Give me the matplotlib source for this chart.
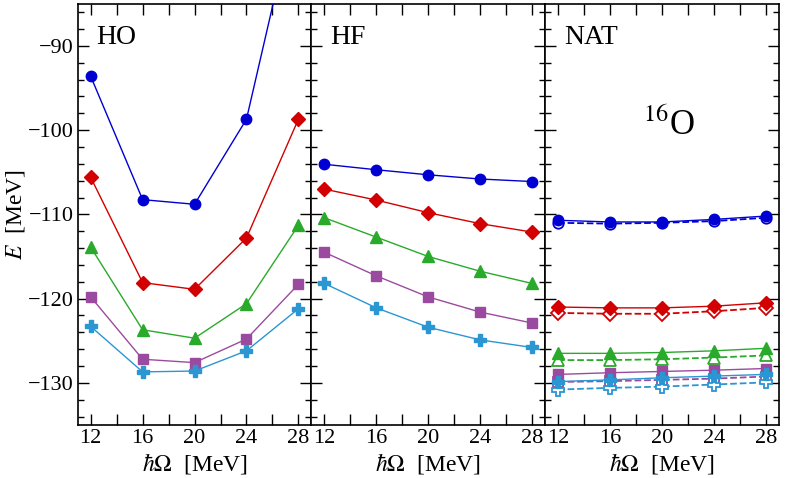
import matplotlib
matplotlib.use("Agg")
import matplotlib.pyplot as plt
from matplotlib.ticker import MultipleLocator

plt.rcParams["font.family"] = ["Liberation Serif", "DejaVu Serif"]
plt.rcParams["mathtext.fontset"] = "stix"

# hbar*Omega grid shared by all panels
hw = [12, 16, 20, 24, 28]

# HO basis
ho_blue = [-93.6, -108.25, -108.8, -98.7, -72.0]
ho_red = [-105.6, -118.1, -118.9, -112.8, -98.7]
ho_green = [-113.9, -123.7, -124.7, -120.6, -111.3]
ho_purple = [-119.8, -127.2, -127.6, -124.8, -118.3]
ho_cyan = [-123.3, -128.7, -128.6, -126.2, -121.2]

# HF basis
hf_blue = [-104.05, -104.7, -105.3, -105.8, -106.1]
hf_red = [-107.0, -108.3, -109.8, -111.1, -112.1]
hf_green = [-110.4, -112.7, -115.0, -116.75, -118.2]
hf_purple = [-114.5, -117.3, -119.8, -121.6, -122.9]
hf_cyan = [-118.2, -121.1, -123.4, -124.9, -125.8]

# NAT basis, solid (filled) and dashed (open)
nat_blue = [-110.7, -110.9, -110.9, -110.6, -110.2]
nat_red = [-121.0, -121.1, -121.1, -120.9, -120.5]
nat_green = [-126.5, -126.5, -126.4, -126.2, -125.9]
nat_purple = [-129.0, -128.8, -128.65, -128.5, -128.3]
nat_cyan = [-129.85, -129.65, -129.4, -129.2, -129.0]

nat2_blue = [-111.0, -111.1, -111.0, -110.8, -110.4]
nat2_red = [-121.7, -121.8, -121.8, -121.5, -121.1]
nat2_green = [-127.3, -127.3, -127.2, -127.0, -126.75]
nat2_purple = [-129.9, -129.8, -129.65, -129.5, -129.25]
nat2_cyan = [-130.8, -130.6, -130.45, -130.2, -129.95]

colors = ["#0000d2", "#d20000", "#2aaa2a", "#9b4b9f", "#2a96d2"]
markers = ["o", "D", "^", "s", "P"]
msizes = [7.5, 7, 9, 7, 9]

panels = [
    ("HO", [ho_blue, ho_red, ho_green, ho_purple, ho_cyan], None),
    ("HF", [hf_blue, hf_red, hf_green, hf_purple, hf_cyan], None),
    ("NAT", [nat_blue, nat_red, nat_green, nat_purple, nat_cyan],
     [nat2_blue, nat2_red, nat2_green, nat2_purple, nat2_cyan]),
]

fig, axes = plt.subplots(1, 3, figsize=(7.85, 4.78), dpi=100, sharey=True)
fig.subplots_adjust(left=0.099, right=0.992, top=0.992, bottom=0.111, wspace=0)

for ax, (name, solid, dashed) in zip(axes, panels):
    if dashed is not None:
        for ys, c, m, ms in zip(dashed, colors, markers, msizes):
            ax.plot(hw, ys, ls="--", lw=1.3, color=c, marker=m, ms=ms,
                    mfc="white", mec=c, mew=1.3, zorder=2)
    for ys, c, m, ms in zip(solid, colors, markers, msizes):
        ax.plot(hw, ys, ls="-", lw=1.0, color=c, marker=m, ms=ms,
                mec=c, zorder=3)
    ax.set_xlim(11, 29)
    ax.set_ylim(-135, -85)
    ax.set_xticks(hw)
    ax.xaxis.set_minor_locator(MultipleLocator(2))
    ax.yaxis.set_major_locator(MultipleLocator(10))
    ax.yaxis.set_minor_locator(MultipleLocator(2))
    ax.tick_params(which="both", direction="in", top=True, right=True,
                   labelsize=16, width=1.0)
    ax.tick_params(which="major", length=8, pad=3)
    ax.tick_params(axis="x", which="minor", length=8)
    ax.tick_params(axis="y", which="minor", length=4)
    for s in ax.spines.values():
        s.set_linewidth(1.2)
    ax.set_xlabel(r"$\hbar\Omega$  [MeV]", fontsize=17, labelpad=2)
    ax.text(0.08, 0.92, name, transform=ax.transAxes, fontsize=20,
            va="center", ha="left")

axes[0].set_ylabel(r"$E$  [MeV]", fontsize=17)
axes[0].yaxis.set_label_coords(-0.215, 0.5)
axes[2].text(0.42, 0.71, r"$^{16}$O", transform=axes[2].transAxes,
             fontsize=25, va="center", ha="left")

fig.savefig("out.png", dpi=100)
